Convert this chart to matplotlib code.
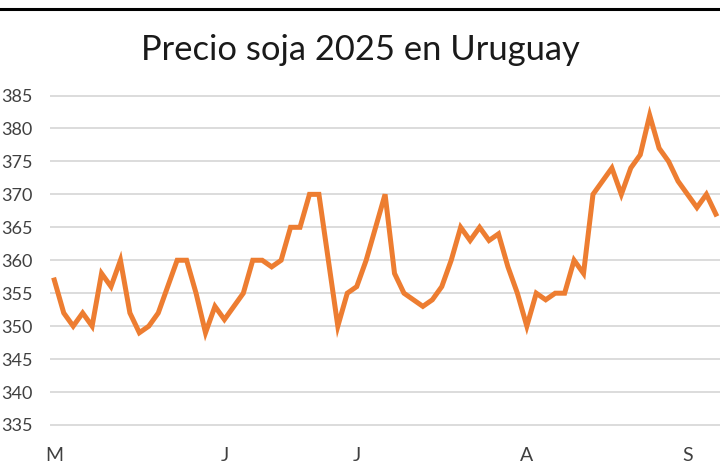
import matplotlib
matplotlib.use("Agg")
import matplotlib.pyplot as plt
from matplotlib.lines import Line2D

# Data (daily price readings, May - September 2025)
prices = [357, 352, 350, 352, 350, 358, 356, 360, 352, 349,
          350, 352, 356, 360, 360, 355, 349, 353, 351, 353,
          355, 360, 360, 359, 360, 365, 365, 370, 370, 360,
          350, 355, 356, 360, 365, 370, 358, 355, 354, 353,
          354, 356, 360, 365, 363, 365, 363, 364, 359, 355,
          350, 355, 354, 355, 355, 360, 358, 370, 372, 374,
          370, 374, 376, 382, 377, 375, 372, 370, 368, 370,
          367]
month_labels = ["M", "J", "J", "A", "S"]
month_positions = [0, 18, 32, 50, 67]
y_ticks = [335, 340, 345, 350, 355, 360, 365, 370, 375, 380, 385]

plt.rcParams['font.family'] = ['Lato', 'DejaVu Sans']

W, H = 720, 475
fig = plt.figure(figsize=(W / 100, H / 100), dpi=100)
fig.patch.set_facecolor("white")

# axes placement in pixels
ax_left = 50
ax_bottom = 48.7
ax_width = W - ax_left
ax_height = 332.1
ax = fig.add_axes([ax_left / W, ax_bottom / H, ax_width / W, ax_height / H])

x = list(range(len(prices)))
ax.plot(x, prices, color="#ED7D31", lw=3.6, solid_joinstyle="miter", zorder=3)

ax.set_xlim(-0.455, 70.44)
ax.set_ylim(334.8, 385.2)
ax.set_yticks(y_ticks)
ax.set_yticklabels([str(v) for v in y_ticks])
ax.set_xticks(month_positions)
ax.set_xticklabels(month_labels)

ax.grid(axis="y", color="#d9d9d9", lw=1.3)
ax.grid(axis="x", visible=False)
ax.set_axisbelow(True)
for s in ax.spines.values():
    s.set_visible(False)
ax.tick_params(axis="y", length=0, pad=12.5, labelsize=13, labelcolor="#404040")
ax.tick_params(axis="x", length=0, pad=15, labelsize=14, labelcolor="#404040")

fig.text(0.5, 1 - 50 / H, "Precio soja 2025 en Uruguay", ha="center", va="center",
         fontsize=24.8, color="#1a1a1a")

# top border line
fig.add_artist(Line2D([0, 1], [1 - 8.5 / H, 1 - 8.5 / H], transform=fig.transFigure,
                      color="black", lw=2.2))

fig.savefig("out.png", dpi=100)
